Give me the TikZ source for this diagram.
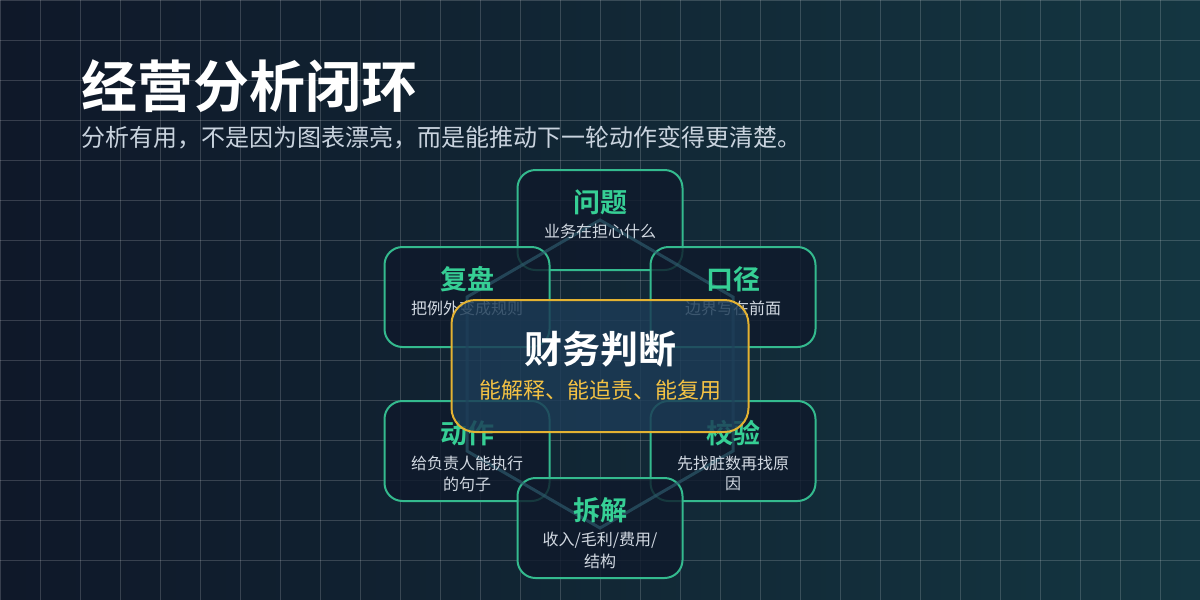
\documentclass[tikz,border=0pt]{standalone}
\usepackage{fontspec}
\setmainfont{Noto Sans CJK SC}[BoldFont={Noto Sans CJK SC Bold}]
\definecolor{bgL}{HTML}{0F1829}
\definecolor{bgR}{HTML}{143641}
\definecolor{boxborder}{HTML}{34BA8E}
\definecolor{boxfill}{HTML}{0F192B}
\definecolor{ttlgreen}{HTML}{36CF95}
\definecolor{subgrey}{HTML}{D2D9E2}
\definecolor{hdgrey}{HTML}{C9D3DE}
\definecolor{edgecol}{HTML}{2F5D6F}
\definecolor{gold}{HTML}{E3B232}
\definecolor{goldtext}{HTML}{F4C244}
\definecolor{corefill}{HTML}{1C3B56}
\pgfdeclarelayer{bg}
\pgfdeclarelayer{boxes}
\pgfdeclarelayer{edges}
\pgfsetlayers{bg,boxes,edges,main}
\tikzset{
  gridline/.style={draw=white, draw opacity=0.17, line width=1pt},
  stagebox/.style={draw=boxborder, line width=2pt, rounded corners=18pt, fill=boxfill, fill opacity=0.8,
    minimum width=165pt, minimum height=100pt, inner sep=0pt},
  corebox/.style={draw=gold, line width=2pt, rounded corners=24pt, fill=corefill, fill opacity=0.82,
    minimum width=297pt, minimum height=132pt, inner sep=0pt},
  ttl/.style={text=ttlgreen, font=\bfseries\fontsize{27}{30}\selectfont, inner sep=0pt},
  subt/.style={text=subgrey, font=\fontsize{16}{20}\selectfont, inner sep=0pt},
  link/.style={draw=edgecol, draw opacity=0.65, line width=3pt},
}
\begin{document}
\begin{tikzpicture}[x=1pt,y=-1pt]
\useasboundingbox (0,0) rectangle (1200,600);
\begin{pgfonlayer}{bg}
\shade[left color=bgL, right color=bgR] (0,0) rectangle (1200,600);
\foreach \x in {0,40,...,1200} \draw[gridline] (\x,0) -- (\x,600);
\foreach \y in {0,40,...,600} \draw[gridline] (0,\y) -- (1200,\y);
\end{pgfonlayer}

% header
\node[anchor=west, inner sep=0pt, text=white, font=\bfseries\fontsize{56}{60}\selectfont] (title) at (81,86) {经营分析闭环};
\node[anchor=west, inner sep=0pt, text=hdgrey, font=\fontsize{24}{28}\selectfont] (subtitle) at (81,138) {分析有用，不是因为图表漂亮，而是能推动下一轮动作变得更清楚。};

% stage boxes
\begin{pgfonlayer}{boxes}
\node[stagebox] (q) at (600,220) {};
\node[stagebox] (f) at (467,297) {};
\node[stagebox] (k) at (733,297) {};
\node[stagebox] (d) at (467,451) {};
\node[stagebox] (j) at (733,451) {};
\node[stagebox] (c) at (600,528) {};
\end{pgfonlayer}

\node[ttl] (qt) at (600,202) {问题};
\node[subt] (qs) at (600,231) {业务在担心什么};
\node[ttl] (ft) at (467,279) {复盘};
\node[subt] (fs) at (467,308) {把例外变成规则};
\node[ttl] (kt) at (733,279) {口径};
\node[subt] (ks) at (733,308) {边界写在前面};
\node[ttl] (dt) at (467,433) {动作};
\node[subt] (ds1) at (467,463) {给负责人能执行};
\node[subt] (ds2) at (467,484) {的句子};
\node[ttl] (jt) at (733,433) {校验};
\node[subt] (js1) at (733,463) {先找脏数再找原};
\node[subt] (js2) at (733,484) {因};
\node[ttl] (ct) at (600,510) {拆解};
\node[subt] (cs1) at (600,540) {收入/毛利/费用/};
\node[subt] (cs2) at (600,561) {结构};

% loop connectors
\begin{pgfonlayer}{edges}
\draw[link] (q.center) -- (k.center) -- (j.center) -- (c.center) -- (d.center) -- (f.center) -- cycle;
\end{pgfonlayer}

% core
\node[corebox] (core) at (600,366) {};
\node[inner sep=0pt, text=white, font=\bfseries\fontsize{38}{42}\selectfont] (coret) at (600,349) {财务判断};
\node[inner sep=0pt, text=goldtext, font=\fontsize{22}{26}\selectfont] (cores) at (600,390) {能解释、能追责、能复用};
\end{tikzpicture}
\end{document}
